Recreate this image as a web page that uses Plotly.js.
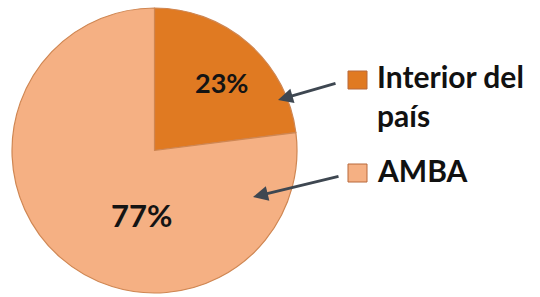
<!DOCTYPE html>
<html>
<head>
<meta charset="utf-8">
<script src="https://cdn.plot.ly/plotly-3.0.1.min.js"></script>
<style>html,body{margin:0;padding:0;background:#fff;}#chart{width:540px;height:297px;}</style>
</head>
<body>
<div id="chart"></div>
<script>
// Data
const labels = ["Interior del país", "AMBA"];
const legendLines = [["Interior del", "país"], ["AMBA"]];
const values = [23, 77];
const colors = ["#E07A22", "#F5B083"];

const W = 540, H = 297;
const px = x => x / W;
const py = y => 1 - y / H;

const total = values.reduce((a, b) => a + b, 0);
const pct = values.map(v => Math.round(v / total * 100) + "%");

const trace = {
  type: "pie",
  labels: labels,
  values: values,
  sort: false,
  direction: "clockwise",
  rotation: 0,
  marker: { colors: colors, line: { color: "#CF8652", width: 1.2 } },
  textinfo: "none",
  hoverinfo: "label+percent",
  showlegend: false,
  domain: { x: [px(12), px(297)], y: [py(293), py(8)] }
};

// label positions (pixel) for percentages inside slices
const pctPos = [[221, 83, 27], [141, 215, 31]];
// legend line centers (pixel)
const legLineY = [[76, 115], [170]];
const legX = 375;
const sqPos = [[348, 71], [348, 164]];
// arrows: head and tail
const arrows = [[278, 100, 337, 83], [253, 197, 340, 176]];

const annotations = [];
const shapes = [];
values.forEach((v, i) => {
  annotations.push({
    xref: "paper", yref: "paper", x: px(pctPos[i][0]), y: py(pctPos[i][1]),
    text: "<b>" + pct[i] + "</b>", showarrow: false,
    font: { family: "Lato", size: pctPos[i][2], color: "#141414" },
    xanchor: "center", yanchor: "middle"
  });
  legendLines[i].forEach((line, j) => {
    annotations.push({
      xref: "paper", yref: "paper", x: px(legX), y: py(legLineY[i][j]),
      text: "<b>" + line + "</b>", showarrow: false,
      font: { family: "Lato", size: 30, color: "#111" },
      xanchor: "left", yanchor: "middle", align: "left"
    });
  });
  shapes.push({
    type: "rect", xref: "paper", yref: "paper",
    x0: px(sqPos[i][0]), x1: px(sqPos[i][0] + 19),
    y0: py(sqPos[i][1] + 18), y1: py(sqPos[i][1]),
    fillcolor: colors[i], line: { color: "#B8693A", width: 1 }
  });
  const a = arrows[i];
  annotations.push({
    xref: "paper", yref: "paper", x: px(a[0]), y: py(a[1]),
    ax: a[2] - a[0], ay: a[3] - a[1], text: "",
    showarrow: true, arrowhead: 2, arrowsize: 1, arrowwidth: 3,
    arrowcolor: "#3E4751"
  });
});

const layout = {
  width: W, height: H,
  margin: { l: 0, r: 0, t: 0, b: 0 },
  paper_bgcolor: "#fff",
  showlegend: false,
  annotations: annotations,
  shapes: shapes
};

Plotly.newPlot("chart", [trace], layout, { displayModeBar: false, staticPlot: true });
</script>
</body>
</html>
